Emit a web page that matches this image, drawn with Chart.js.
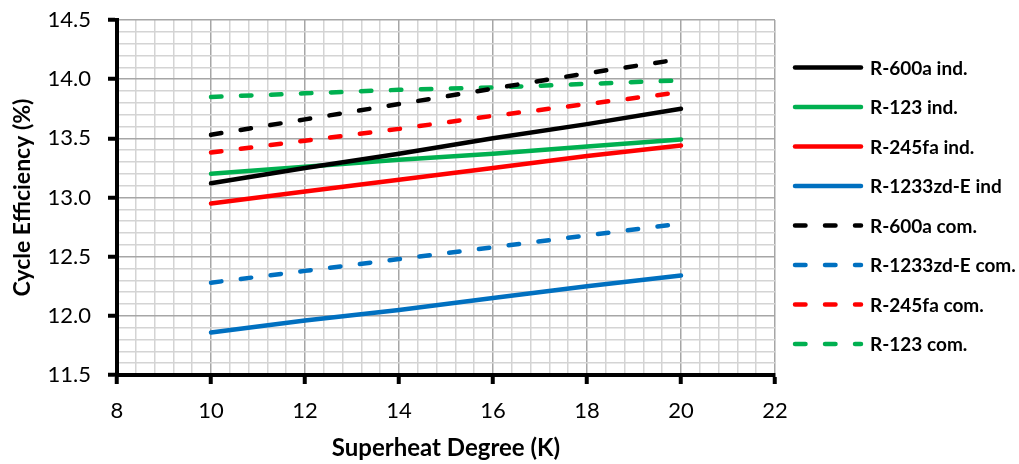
<!DOCTYPE html>
<html>
<head>
<meta charset="utf-8">
<title>Cycle Efficiency vs Superheat</title>
<script src="https://cdn.jsdelivr.net/npm/chart.js@4.4.1/dist/chart.umd.min.js"></script>
<style>
  html, body { margin: 0; padding: 0; background: #fff; }
  #wrap { width: 1019px; height: 464px; }
</style>
</head>
<body>
<div id="wrap"><canvas id="chart" width="1019" height="464"></canvas></div>
<script>
// superheat degree (K) at each computed point
const superheat = [10, 12, 14, 16, 18, 20];

// cycle efficiency (%) - independent cycles
const r600aInd = [13.12, 13.25, 13.37, 13.50, 13.62, 13.75];
const r123Ind = [13.20, 13.26, 13.32, 13.37, 13.43, 13.49];
const r245faInd = [12.95, 13.05, 13.15, 13.25, 13.35, 13.44];
const r1233zdInd = [11.86, 11.96, 12.05, 12.15, 12.25, 12.34];

// cycle efficiency (%) - combined cycles
const r600aCom = [13.53, 13.66, 13.79, 13.92, 14.05, 14.17];
const r1233zdCom = [12.28, 12.38, 12.48, 12.58, 12.68, 12.78];
const r245faCom = [13.38, 13.48, 13.58, 13.69, 13.79, 13.89];
const r123Com = [13.85, 13.88, 13.91, 13.93, 13.96, 13.99];

const seriesNames = [
    'R-600a ind.', 'R-123 ind.', 'R-245fa ind.', 'R-1233zd-E ind',
    'R-600a com.', 'R-1233zd-E com.', 'R-245fa com.', 'R-123 com.'
];
const seriesValues = [r600aInd, r123Ind, r245faInd, r1233zdInd, r600aCom, r1233zdCom, r245faCom, r123Com];
const seriesColors = ['#000000', '#00B050', '#FF0000', '#0070C0', '#000000', '#0070C0', '#FF0000', '#00B050'];
const seriesDashed = [false, false, false, false, true, true, true, true];

const xTicksMajor = 2;
const yTicksMajor = 0.5;

const LINE_W = 4.5;
const DASH = [10.5, 19.5];
const FONT = 'Lato, "Open Sans", sans-serif';

const isMajor = (v, step) => Math.abs(v / step - Math.round(v / step)) < 1e-6;

const datasets = seriesValues.map((vals, i) => ({
    label: seriesNames[i],
    data: superheat.map((x, j) => ({ x, y: vals[j] })),
    borderColor: seriesColors[i],
    backgroundColor: seriesColors[i],
    borderWidth: LINE_W,
    borderDash: seriesDashed[i] ? DASH : [],
    borderCapStyle: 'round',
    borderJoinStyle: 'round',
    pointRadius: 0,
    tension: 0,
    fill: false
}));

// legend drawn on the right, one row per series
const sideLegend = {
    id: 'sideLegend',
    afterDraw(chart) {
        const { ctx } = chart;
        ctx.save();
        chart.data.datasets.forEach((ds, i) => {
            const y = 67.5 + i * 39.5;
            ctx.beginPath();
            ctx.setLineDash(ds.borderDash || []);
            ctx.lineCap = 'round';
            ctx.lineWidth = LINE_W;
            ctx.strokeStyle = ds.borderColor;
            ctx.moveTo(795, y);
            ctx.lineTo(861, y);
            ctx.stroke();
            ctx.setLineDash([]);
            ctx.fillStyle = '#000';
            ctx.font = 'bold 19px ' + FONT;
            ctx.textBaseline = 'middle';
            ctx.textAlign = 'left';
            ctx.fillText(ds.label, 870, y + 1);
        });
        ctx.restore();
    }
};

new Chart(document.getElementById('chart'), {
    type: 'line',
    data: { datasets },
    options: {
        responsive: false,
        animation: false,
        devicePixelRatio: 1,
        layout: { padding: { top: 20, right: 244, left: 0, bottom: 0 } },
        plugins: {
            legend: { display: false },
            tooltip: { enabled: false }
        },
        scales: {
            x: {
                type: 'linear',
                min: 8,
                max: 22,
                afterFit: (scale) => { scale.height = 89; },
                border: { display: true, color: '#000', width: 4 },
                grid: {
                    color: (c) => isMajor(c.tick.value, xTicksMajor) ? '#A6A6A6' : '#D4D4D4',
                    lineWidth: 1.5,
                    tickLength: 9,
                    tickColor: '#000',
                    tickWidth: (c) => isMajor(c.tick.value, xTicksMajor) ? 4 : 0
                },
                ticks: {
                    stepSize: 0.4,
                    autoSkip: false,
                    maxRotation: 0,
                    padding: 14,
                    color: '#000',
                    font: { family: FONT, size: 22 },
                    callback: (v) => isMajor(v, xTicksMajor) ? String(Math.round(v)) : ''
                },
                title: {
                    display: true,
                    text: 'Superheat Degree (K)',
                    color: '#000',
                    font: { family: FONT, size: 24, weight: 'bold' },
                    padding: { top: 0, bottom: 1 }
                }
            },
            y: {
                type: 'linear',
                min: 11.5,
                max: 14.5,
                afterFit: (scale) => {
                    scale.width = 117;
                    // keep the plot top fixed by the layout padding alone
                    scale.paddingTop = 0;
                    scale.paddingBottom = 0;
                },
                border: { display: true, color: '#000', width: 4 },
                grid: {
                    color: (c) => isMajor(c.tick.value, yTicksMajor) ? '#A6A6A6' : '#D4D4D4',
                    lineWidth: 1.5,
                    tickLength: 9,
                    tickColor: '#000',
                    tickWidth: (c) => isMajor(c.tick.value, yTicksMajor) ? 4 : 0
                },
                ticks: {
                    stepSize: 0.1,
                    autoSkip: false,
                    padding: 17,
                    color: '#000',
                    font: { family: FONT, size: 22 },
                    callback: (v) => isMajor(v, yTicksMajor) ? v.toFixed(1) : ''
                },
                title: {
                    display: true,
                    text: 'Cycle Efficiency (%)',
                    color: '#000',
                    font: { family: FONT, size: 23, weight: 'bold' },
                    padding: { top: 9, bottom: 0 }
                }
            }
        }
    },
    plugins: [sideLegend]
});
</script>
</body>
</html>
